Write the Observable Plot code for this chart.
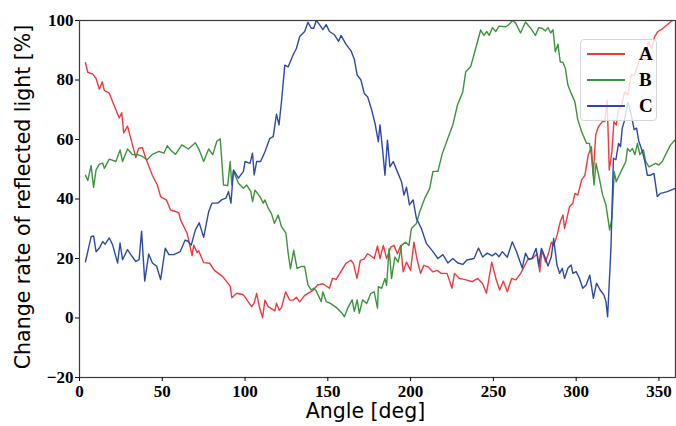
<!DOCTYPE html>
<html>
<head>
<meta charset="utf-8">
<script src="https://cdn.jsdelivr.net/npm/d3@7"></script>
<script src="https://cdn.jsdelivr.net/npm/@observablehq/plot@0.6"></script>
<style>
  html, body { margin: 0; padding: 0; background: #fff; }
  #wrap { position: relative; width: 676px; height: 426px; }
  #legend { position: absolute; left: 580px; top: 39px; width: 77px; height: 82px;
    box-sizing: border-box; border: 1px solid #d6d6d6; border-radius: 4px;
    background: rgba(255,255,255,0.8); }
  #legend .row { position: absolute; left: 6px; height: 20px; width: 70px; }
  #legend .sw { position: absolute; left: 0; top: 9px; width: 38px; height: 1.6px; }
  #legend .lb { position: absolute; left: 52px; top: -1px; font: bold 19px "Liberation Serif", "Times New Roman", serif; color: #000; }
</style>
</head>
<body>
<div id="wrap"></div>
<script>
const seriesNames = ["A", "B", "C"];
const seriesColors = ["#ee3a3e", "#3c943c", "#2b4aa6"];
const xTicks = [0, 50, 100, 150, 200, 250, 300, 350];
const yTicks = [-20, 0, 20, 40, 60, 80, 100];

const angleA = [3.6,5,8,10,12,13.7,15,18,20,24,25.5,26.7,29,32,34,35.7,38,40,44,47,49,52.6,55,58,60,61,65,68,69,71,72,75,78.6,81.5,86.5,91,92,95,99,104,105.5,107,108.6,110.6,112,114,118,119,120.6,122,124.5,127,129,131,133,136,141,143.8,147,151,152.8,155,157.8,160.8,163.8,165.5,167.6,169.6,172,174,175.5,178,180,181.5,183.5,185.5,188,190,192,194,195.5,197.5,200,202,204,206,208,210.5,213.5,216,218.5,222,225,226.5,229.5,233.5,237.3,240.5,243.4,245.8,249,251.5,253.8,256,258.4,261,263.5,266.5,268.5,271,273.5,276.5,278,279.4,281.5,283.5,285,286.5,288.4,290.4,292,293,296,298,299.2,301,303.3,305.3,307.3,309.2,310.3,311.8,313.4,315.8,317.3,318.7,320,321.6,322.8,324.2,325.6,327.6,329.2,331.2,333.2,335.2,337.2,339.2,341.5,343.6,345.5,347.4,349.4,352,355,358,360];
const valueA = [85.8,82.6,82,80.5,76.9,79.4,76.5,75.6,72.7,67.2,69,62.2,64.5,58.2,53.9,57,57.3,53.7,48,44.7,40.8,39.6,36.3,35.8,35.3,33,28.5,21,24.5,22,22.6,18.6,18.4,16,13.9,10.7,6.8,8.3,7.8,3.8,5,8.3,3.8,0.1,6,3.8,2.4,5,2.6,3.5,8.8,6,6,7,5.4,7.6,9.3,11.1,11.5,10,13.3,13,15.5,18.3,19.4,18.3,13.3,19.4,19.9,21.6,21.1,20,24.2,20,24.4,20,23.8,24.4,21.6,24.4,15.5,18.8,16,25.5,19.4,15,17.7,17.2,15.5,16,15,15,10,15,13.3,12.8,12.2,13.3,11.6,8.3,18.8,13.3,9.4,12.4,8.8,13.3,12.8,15,17.2,19.9,19.9,21.6,15.5,22.8,18.8,22.2,25.5,24.4,27.7,32.4,34.6,30.1,37.4,38.6,41.9,41.3,46.4,48,54.8,57.6,48,61.6,64.3,66,66,73.2,49.7,56,66,64.9,70,71.6,76,75,81.7,81.7,85,88.4,86.7,92.9,90.6,94.6,96.3,97.2,98.6,100,100.5];

const angleB = [3.6,5,7,8.5,10,12,14,15,18,22,24.5,26,29,32,35,38,40.8,44,48,51,53,55,58,61.8,65.8,70,72.3,75,78,80.5,83,85,87,89.5,91,92,93,96,99,101,103.5,104.5,106,109,111,112,114,116,117.7,120,122,124.7,126,127.4,129.4,131.4,133.8,136,138,140,141.5,143,146,147,149,151.6,155.6,158.6,160,162,164.7,166,167.7,169,171,173.5,176,178,180,180.5,182.5,184.5,185.5,187,188.5,190.5,192.5,194.5,197,199,200.5,203.5,205.5,208.5,211.5,213.5,216.5,219,222.5,225.5,228.3,231.5,233.3,236.3,239.3,242.3,244.3,246,247.5,249.4,251.4,253.4,257.4,259.4,261.4,263.4,266.4,269.4,272.4,275.4,277.4,279.4,281.4,283,284.6,286,287.4,289,290.4,292,293.5,295,297,299.2,301,303.3,306.3,308,309.2,310.8,312,314,316,318,320.2,321.6,323,324.2,326,328,330,331,332.5,334,335.5,337,338.5,340.6,342,344,346,348,350,352,355,357,360];
const valueB = [48,46.2,51.2,43.9,49.8,51.7,52,50.3,53.4,52.6,56.5,52.6,56.8,54.9,54.9,54.3,53.2,55,56,55.4,57.9,56.5,55,58.2,56.8,58.9,56.5,52.6,56.8,54.9,59.5,60.2,44.7,44.5,52.6,44.7,49.3,45.3,43.6,44.7,42.5,39.1,43,40.8,38.6,39.7,36.9,35,31.8,34.6,30.7,28.5,22,16.5,22.8,16.7,17.3,17.3,11.1,9.4,10,9.1,5.5,8.8,5.5,4.9,3.3,1.6,0.4,3.3,6.1,2.2,6.1,1.6,6.1,4.9,8.3,8.8,3.3,10.5,10,13.3,11,23.3,13.3,20.5,18.8,24.4,25.5,24.4,30.1,31.8,35.7,40.2,43.5,49.3,49.3,55,60.4,64.9,71.6,76,82.8,84.5,90.6,96.8,95,96.3,95,97.6,96.3,98.1,97.9,98.6,100,99.2,95.8,99.5,97.5,95,97.6,97.4,96.5,97.6,95.8,96.9,89.5,92,86,86,83.9,78.3,75.5,72.7,66.6,62.6,58.7,58.7,54.9,44.7,52,46.9,41.3,38,29.6,33.5,49.2,45.8,48,50.3,52.6,57,56,57,54.9,58.7,54.9,56.5,52.6,50.8,51.4,52,51.4,52.6,56,58.2,60];

const angleC = [3.6,5,7,8.5,10,12,14,15.5,18,20,23,24.5,26,29,31,34,36,37.5,39.4,41.8,44,46.6,49,51.8,54,57,60.8,63.8,65.5,67.5,70,72.3,75,78,80,83.5,86,88.5,90,91.5,93,96,99,100,103,104.5,105.5,107,109.4,112,115,117,119,120.5,122,124,126,129,131,133,136,138,140,141.5,143,145,147,149,151,154,156.5,158,161,164,166,167.7,170,172,174,176.5,178.5,180.5,181.5,183,184.5,186,187.5,189.5,192,194.5,196,197.5,199.3,201.5,203.5,206.5,209.5,213.5,216.5,219.5,222.5,225.5,228.5,231.5,234,238.3,241,243.5,246.3,249.3,251.4,253.4,255.4,258.4,261.4,264,267.4,269.4,271.4,273.4,275.8,277.4,279,281.4,283,285,286.4,288.4,290,291.6,293,295,297,298,300,302,304,306,308.2,310.4,312.3,314.5,316.8,318,319,321,322.5,324,325.6,326.8,327.8,329,331.3,333.3,335,336.5,337.8,340,341.5,343,345,347,349,351,355,360];
const valueC = [18.9,22.3,27.3,27.6,22.3,23.5,25.7,24.8,26.9,24.6,18.5,25.2,19.6,23,21.3,19,19.6,29.2,12.4,21.5,18.5,17.4,12.9,23.5,21.3,21.3,22.3,26.2,25.8,24.5,29.6,32,27.1,35.7,38.6,38.6,39.8,40.3,42.5,38.6,49.8,47,49.3,52.6,52,55.4,48.1,52.6,52.6,55.9,60.4,61,68.5,64.9,72.7,85,84.4,88.4,90.6,94.6,96.3,99.4,97.4,97.4,100,98.6,96.9,98.6,96.3,95.2,93,95,92,89.8,87,81.7,80,75.5,74.4,69.9,65.4,59.3,64.9,57,48,59.8,50.8,52.6,49.2,45.8,41.3,44,38,39.7,33.5,30.1,25.1,22.3,20,21.3,18.5,20,18.5,18,19.5,20,23.5,20.5,21.8,20.9,21.8,20.6,22.3,20.4,25.6,22.3,16.8,21.8,19.6,20.1,23.4,17.5,23.4,20.1,17.5,20.6,26.7,17.8,15,16.7,13.3,16.7,17.8,15,15.6,13.3,10,11.1,14.4,6.6,11.7,9.4,7.7,5.5,0.4,23.4,53.7,53.2,58.7,57.6,63.8,66,72.5,68.3,63.3,63.8,59.5,56,52.6,48,48,48.6,40.8,41.9,42.5,43.6];

const angles = [angleA, angleB, angleC];
const values = [valueA, valueB, valueC];
const rows = seriesNames.flatMap((s, i) => angles[i].map((a, j) => ({series: s, angle: a, value: values[i][j]})));

const tickFont = {fontFamily: "'Liberation Serif', 'Times New Roman', serif", fontWeight: "bold", fontSize: 17};
const labelFont = {fontSize: 20.5, fontFamily: "'DejaVu Sans', sans-serif", fill: "#000"};

const chart = Plot.plot({
  width: 676,
  height: 426,
  marginLeft: 79,
  marginRight: 1,
  marginTop: 20,
  marginBottom: 49,
  style: {background: "#fff", color: "#000", overflow: "visible"},
  x: {domain: [0, 360]},
  y: {domain: [-20, 100]},
  color: {domain: seriesNames, range: seriesColors},
  marks: [
    Plot.lineY(rows, {x: "angle", y: "value", z: "series", stroke: "series", strokeWidth: 1.4, clip: true}),
    Plot.frame({stroke: "#3a3a3a", strokeWidth: 1.2}),
    Plot.axisX({ticks: xTicks, tickSize: 4, tickPadding: 3, label: null, ...tickFont}),
    Plot.axisY({ticks: yTicks, tickSize: 4, tickPadding: 2, label: null, ...tickFont}),
    Plot.text(["Angle [deg]"], {frameAnchor: "bottom", dx: -12, dy: 34, lineAnchor: "middle", textAnchor: "middle", ...labelFont}),
    Plot.text(["Change rate of reflected light [%]"], {frameAnchor: "left", dx: -56, dy: -2, rotate: -90, textAnchor: "middle", lineAnchor: "middle", ...labelFont})
  ]
});

const wrap = document.getElementById("wrap");
wrap.appendChild(chart);
const legend = document.createElement("div");
legend.id = "legend";
seriesNames.forEach((s, i) => {
  const row = document.createElement("div");
  row.className = "row";
  row.style.top = (4 + i * 26) + "px";
  row.innerHTML = `<div class="sw" style="background:${seriesColors[i]}"></div><div class="lb">${s}</div>`;
  legend.appendChild(row);
});
wrap.appendChild(legend);
</script>
</body>
</html>
